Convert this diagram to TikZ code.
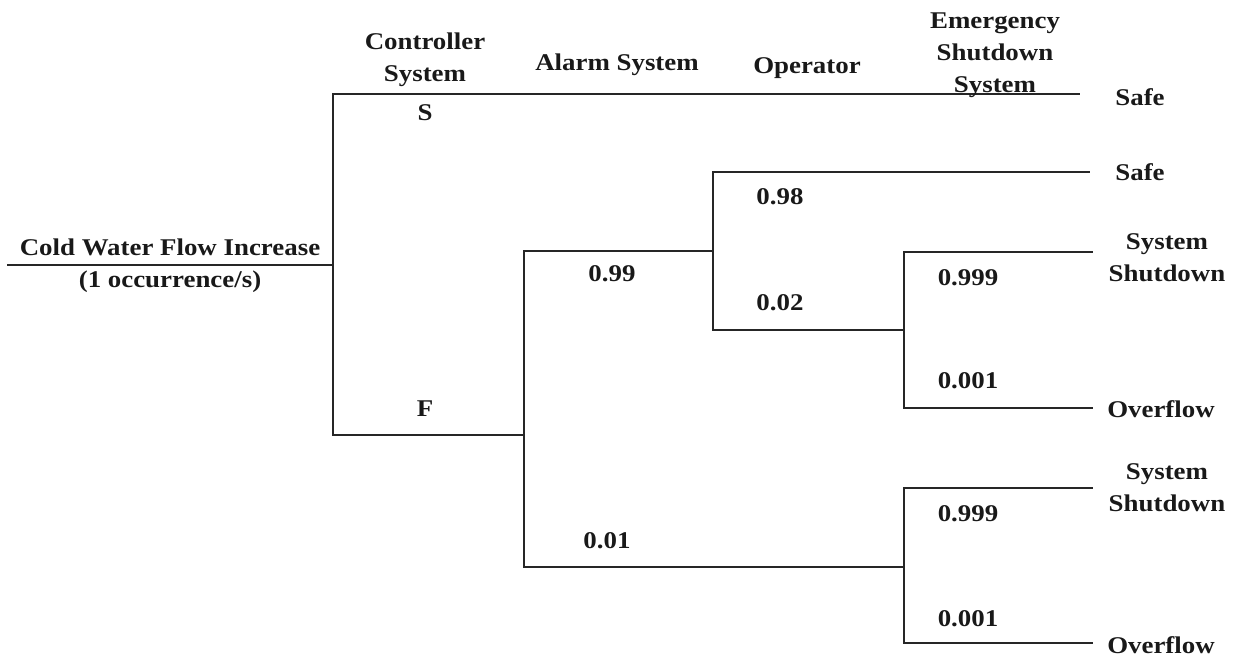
\documentclass[tikz,border=0pt]{standalone}
\usepackage{fontspec}
\setmainfont{Liberation Serif}[FakeStretch=1.12]
\begin{document}
\begin{tikzpicture}[x=1pt,y=-1pt,
  branch/.style={draw=black!85,line width=1.7pt},
  lbl/.style={font=\bfseries\fontsize{24}{32}\selectfont,align=center,inner sep=0pt,text=black!90},
]
\useasboundingbox (0,0) rectangle (1243,658);
% junctions and ends
\coordinate (start) at (7,265);
\coordinate (c1) at (333,265);
\coordinate (e0) at (1080,94);
\coordinate (c2) at (524,435);
\coordinate (c3) at (713,251);
\coordinate (e1) at (1090,172);
\coordinate (c4) at (904,330);
\coordinate (e2) at (1093,252);
\coordinate (e3) at (1093,408);
\coordinate (c5) at (904,567);
\coordinate (e4) at (1093,488);
\coordinate (e5) at (1093,643);
% branches
\draw[branch] (start) -- (c1);
\draw[branch] (c1) |- (e0);
\draw[branch] (c1) |- (c2);
\draw[branch] (c2) |- (c3);
\draw[branch] (c2) |- (c5);
\draw[branch] (c3) |- (e1);
\draw[branch] (c3) |- (c4);
\draw[branch] (c4) |- (e2);
\draw[branch] (c4) |- (e3);
\draw[branch] (c5) |- (e4);
\draw[branch] (c5) |- (e5);
% headers
\node[lbl] (hctrl) at (425,60) {Controller\\System};
\node[lbl] (halarm) at (617,65) {Alarm System};
\node[lbl] (hop) at (807,68) {Operator};
\node[lbl] (hesd) at (995,55) {Emergency\\Shutdown\\System};
% initiating event
\node[lbl] (ie1) at (170,247) {Cold Water Flow Increase};
\node[lbl] (ie2) at (170,282) {(1 occurrence/s)};
% branch labels
\node[lbl] (ls) at (425,113) {S};
\node[lbl] (lf) at (425,409) {F};
\node[lbl] (p099) at (612,274) {0.99};
\node[lbl] (p001a) at (607,541) {0.01};
\node[lbl] (p098) at (780,197) {0.98};
\node[lbl] (p002) at (780,303) {0.02};
\node[lbl] (p0999a) at (968,278) {0.999};
\node[lbl] (p0001a) at (968,381) {0.001};
\node[lbl] (p0999b) at (968,514) {0.999};
\node[lbl] (p0001b) at (968,619) {0.001};
% outcomes
\node[lbl] (o1) at (1140,97) {Safe};
\node[lbl] (o2) at (1140,172) {Safe};
\node[lbl] (o3) at (1167,258) {System\\Shutdown};
\node[lbl] (o4) at (1161,409) {Overflow};
\node[lbl] (o5) at (1167,488) {System\\Shutdown};
\node[lbl] (o6) at (1161,645) {Overflow};
\end{tikzpicture}
\end{document}
